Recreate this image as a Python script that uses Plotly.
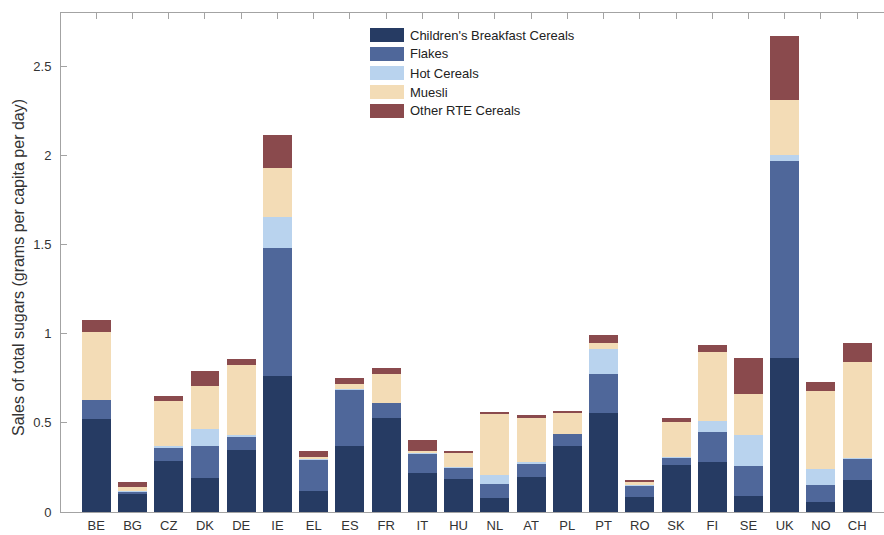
import plotly.graph_objects as go

# Countries along the x axis
countries = ["BE", "BG", "CZ", "DK", "DE", "IE", "EL", "ES", "FR", "IT", "HU",
             "NL", "AT", "PL", "PT", "RO", "SK", "FI", "SE", "UK", "NO", "CH"]

# Sales of total sugars by cereal category (g per capita per day)
childrens_breakfast = [0.52, 0.105, 0.284, 0.19, 0.348, 0.762, 0.12, 0.372, 0.527, 0.217, 0.183,
                       0.08, 0.194, 0.37, 0.557, 0.082, 0.263, 0.279, 0.092, 0.863, 0.058, 0.179]
flakes = [0.11, 0.01, 0.073, 0.18, 0.078, 0.722, 0.177, 0.316, 0.086, 0.112, 0.065,
          0.077, 0.073, 0.069, 0.22, 0.064, 0.044, 0.168, 0.168, 1.104, 0.093, 0.122]
hot_cereals = [0.0, 0.004, 0.013, 0.097, 0.004, 0.171, 0.003, 0.005, 0.0, 0.003, 0.004,
               0.052, 0.012, 0.0, 0.137, 0.003, 0.003, 0.065, 0.172, 0.038, 0.09, 0.003]
muesli = [0.38, 0.02, 0.254, 0.24, 0.394, 0.277, 0.01, 0.024, 0.164, 0.013, 0.079,
          0.34, 0.25, 0.118, 0.037, 0.017, 0.193, 0.387, 0.228, 0.308, 0.437, 0.538]
other_rte = [0.07, 0.028, 0.026, 0.084, 0.032, 0.181, 0.034, 0.036, 0.032, 0.06, 0.012,
             0.013, 0.017, 0.009, 0.045, 0.013, 0.022, 0.037, 0.205, 0.357, 0.052, 0.107]

series_names = ["Children's Breakfast Cereals", "Flakes", "Hot Cereals", "Muesli", "Other RTE Cereals"]
series_values = [childrens_breakfast, flakes, hot_cereals, muesli, other_rte]
series_colors = ["#263b63", "#4f679a", "#b9d3ee", "#f3dcb6", "#8a4a4d"]

y_tick_values = [0, 0.5, 1, 1.5, 2, 2.5]
y_tick_labels = ["0", "0.5", "1", "1.5", "2", "2.5"]

W, H = 884, 535
M_L, M_R, M_T, M_B = 61, 0, 13, 23
FONT = "Liberation Sans, Arial, Helvetica, sans-serif"
AXIS_GREY = "#a3a3a3"
TEXT_COLOR = "#333333"

fig = go.Figure()
for name, vals, col in zip(series_names, series_values, series_colors):
    fig.add_trace(go.Bar(
        x=countries, y=vals, name=name,
        marker=dict(color=col, line=dict(width=0)),
        showlegend=False,
    ))


def px_to_paper(px, py):
    pw = W - M_L - M_R
    ph = H - M_T - M_B
    return (px - M_L) / pw, (H - M_B - py) / ph


# Legend drawn as wide swatches with labels beside them
shapes = []
annotations = []
for i, (name, col) in enumerate(zip(series_names, series_colors)):
    cy = 35 + 19 * i
    x0, y0 = px_to_paper(370, cy - 7)
    x1, y1 = px_to_paper(404, cy + 7)
    shapes.append(dict(type="rect", xref="paper", yref="paper",
                       x0=x0, x1=x1, y0=y1, y1=y0,
                       fillcolor=col, line=dict(width=0)))
    tx, ty = px_to_paper(408, cy)
    annotations.append(dict(xref="paper", yref="paper", x=tx, y=ty,
                            text=name, showarrow=False, xanchor="left", yanchor="middle",
                            font=dict(family=FONT, size=13, color="#222222")))

# Vertical axis title
ax, ay = px_to_paper(18, 268)
annotations.append(dict(xref="paper", yref="paper", x=ax, y=ay,
                        text="Sales of total sugars (grams per capita per day)",
                        textangle=-90, showarrow=False, xanchor="center", yanchor="middle",
                        font=dict(family=FONT, size=16, color=TEXT_COLOR)))

fig.update_layout(
    width=W, height=H,
    margin=dict(l=M_L, r=M_R, t=M_T, b=M_B, pad=0),
    barmode="stack", bargap=0.2,
    plot_bgcolor="white", paper_bgcolor="white",
    font=dict(family=FONT, size=13, color=TEXT_COLOR),
    shapes=shapes, annotations=annotations,
    showlegend=False,
    xaxis=dict(
        type="category", range=[-0.974, 21.74],
        showline=True, linecolor=AXIS_GREY, linewidth=1, mirror="ticks",
        ticks="inside", ticklen=6, tickcolor=AXIS_GREY, tickwidth=1,
        showgrid=False, zeroline=False, layer="below traces",
        tickfont=dict(family=FONT, size=13, color=TEXT_COLOR),
        ticklabelstandoff=1,
    ),
    yaxis=dict(
        range=[0, 2.8], tickvals=y_tick_values, ticktext=y_tick_labels,
        showline=True, linecolor=AXIS_GREY, linewidth=1, mirror=False,
        ticks="inside", ticklen=6, tickcolor=AXIS_GREY, tickwidth=1,
        showgrid=False, zeroline=False, layer="below traces",
        tickfont=dict(family=FONT, size=13, color=TEXT_COLOR),
        ticklabelstandoff=6,
    ),
)

fig.write_html("out.html")
